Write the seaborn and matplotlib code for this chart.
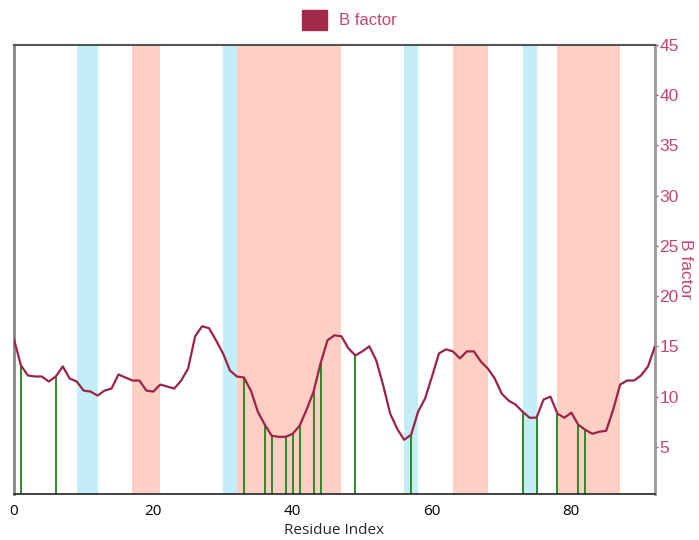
import seaborn as sns
import matplotlib.pyplot as plt
import matplotlib.patches as mpatches
import pandas as pd

# B factor per residue
bfactor = [15.7, 13.1, 12.1, 12.0, 12.0, 11.5, 12.0, 13.0, 11.8, 11.5,
           10.6, 10.5, 10.1, 10.6, 10.8, 12.2, 11.9, 11.6, 11.6, 10.6,
           10.5, 11.2, 11.0, 10.8, 11.6, 12.8, 16.0, 17.0, 16.8, 15.6,
           14.3, 12.6, 12.0, 11.9, 10.6, 8.5, 7.2, 6.1, 6.0, 6.0,
           6.3, 7.1, 8.7, 10.5, 13.3, 15.6, 16.1, 16.0, 14.8, 14.1,
           14.5, 15.0, 13.6, 11.1, 8.3, 6.8, 5.7, 6.2, 8.5, 9.8,
           12.0, 14.3, 14.7, 14.5, 13.8, 14.5, 14.5, 13.5, 12.8, 11.8,
           10.3, 9.6, 9.2, 8.5, 7.9, 7.9, 9.7, 10.0, 8.3, 7.9,
           8.4, 7.2, 6.7, 6.3, 6.5, 6.6, 8.7, 11.2, 11.6, 11.6,
           12.1, 13.0, 15.0]
residue = list(range(len(bfactor)))

# highlighted residues (green sticks)
marked = [1, 6, 33, 36, 37, 39, 40, 41, 43, 44, 49, 57, 73, 75, 78, 81, 82]

# shaded regions (start, end)
blue_regions = [(9, 12), (30, 32), (56, 58), (73, 75)]
red_regions = [(17, 21), (32, 47), (63, 68), (78, 87)]

line_col = "#9B2346"
pink = "#C4466F"

sns.set_style("white")
plt.rcParams['font.family'] = ['Liberation Sans', 'DejaVu Sans']

fig = plt.figure(figsize=(6.99, 5.4), dpi=100)
ax = fig.add_axes([0.02, 0.085, 0.917, 0.832])

for a, b in blue_regions:
    ax.axvspan(a, b, color="#C4EEF7", lw=0, zorder=0)
for a, b in red_regions:
    ax.axvspan(a, b, color="#FFCFC4", lw=0, zorder=0)

ax.vlines(marked, 0, [bfactor[i] for i in marked], color="#2E8B22", lw=1.4, zorder=2)

df = pd.DataFrame({"Residue Index": residue, "B factor": bfactor})
sns.lineplot(data=df, x="Residue Index", y="B factor", color=line_col, lw=1.6, ax=ax, zorder=3)

ax.set_xlim(0, 92)
ax.set_ylim(0.3, 45)
ax.set_xticks([0, 20, 40, 60, 80])
ax.set_yticks([5, 10, 15, 20, 25, 30, 35, 40, 45])

ax.yaxis.tick_right()
ax.yaxis.set_label_position("right")
ax.tick_params(axis="y", colors=pink, labelsize=12.5, length=2, width=1, pad=1)
ax.tick_params(axis="x", colors="black", labelsize=11, length=3, width=1, pad=4)
for lab in ax.get_xticklabels():
    lab.set_family(['Open Sans', 'DejaVu Sans'])
ax.set_xlabel("Residue Index", fontsize=11, family=['Open Sans', 'DejaVu Sans'], labelpad=3)
ax.set_ylabel("B factor", fontsize=12.5, color=pink, rotation=270, labelpad=10)

ax.spines["left"].set_color("#888888")
ax.spines["left"].set_linewidth(2)
ax.spines["right"].set_color("#999999")
ax.spines["right"].set_linewidth(2)
ax.spines["top"].set_color("#555555")
ax.spines["top"].set_linewidth(1.5)
ax.spines["bottom"].set_color("#222222")
ax.spines["bottom"].set_linewidth(1.2)

handle = mpatches.Patch(color="#A3284A", label="B factor")
leg = fig.legend(handles=[handle], loc="upper center", bbox_to_anchor=(0.5, 1.01),
                 frameon=False, fontsize=12, handlelength=1.5, handleheight=1.5,
                 handletextpad=0.7)
for t in leg.get_texts():
    t.set_color(pink)

fig.savefig("out.png", dpi=100)
